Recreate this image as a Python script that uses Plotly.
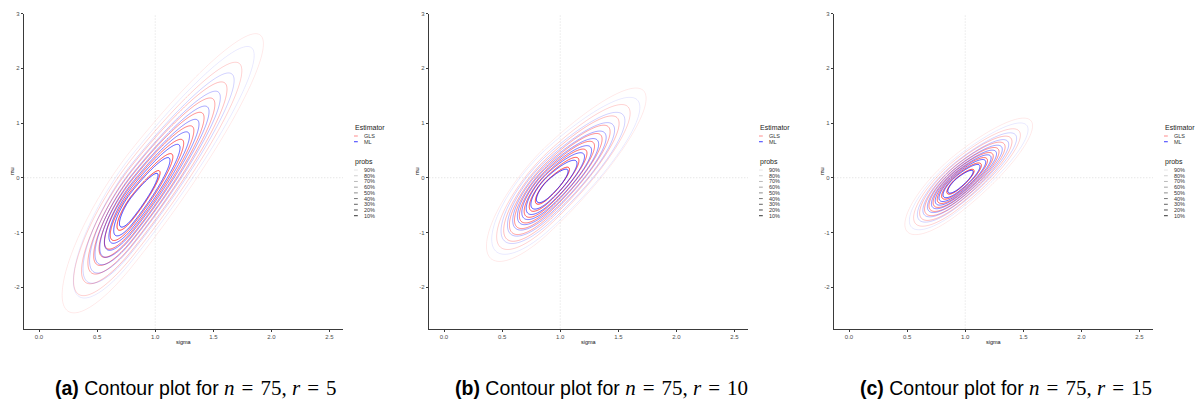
import numpy as np
import plotly.graph_objects as go

# ---------------- data ----------------
panel_tags = ["(a)", "(b)", "(c)"]
n_obs = 75
r_values = [5, 10, 15]
estimators = ["GLS", "ML"]
prob_labels = ["90%", "80%", "70%", "60%", "50%", "40%", "30%", "20%", "10%"]
prob_levels = [0.9, 0.8, 0.7, 0.6, 0.5, 0.4, 0.3, 0.2, 0.1]

sigma_ticks = [0.0, 0.5, 1.0, 1.5, 2.0, 2.5]
mu_ticks = [-2, -1, 0, 1, 2, 3]

# density summaries for each panel (split-normal in sigma, linear mu|sigma)
gls_sigma_mode = [0.80, 0.90, 0.94]
gls_mu_mode = [-0.55, -0.20, -0.10]
gls_sigma_sd_left = [0.280, 0.249, 0.214]
gls_sigma_sd_right = [0.527, 0.391, 0.298]
gls_mu_slope = [2.65, 1.965, 1.64]
gls_mu_resid_sd = [0.50, 0.38, 0.262]

ml_sigma_mode = [0.80, 0.90, 0.94]
ml_mu_mode = [-0.55, -0.20, -0.10]
ml_sigma_sd_left = [0.235, 0.228, 0.196]
ml_sigma_sd_right = [0.490, 0.366, 0.280]
ml_mu_slope = [2.65, 1.89, 1.63]
ml_mu_resid_sd = [0.45, 0.356, 0.235]

# ---------------- layout constants ----------------
W, H = 1196, 403
FONT = "Liberation Sans, Arial, sans-serif"
axis_left_px = [24.3, 429.3, 834.3]
plot_w_px = 318.7
plot_top_px, plot_bot_px = 10.7, 328.0
x_range = [-0.1265, 2.616]
y_range = [-2.757, 3.0]


def px(x):
    return x / W


def py(y):
    return 1 - y / H


def hdr_mass(sg, mg, s0, m0, sl, sr, b, w):
    S, M = np.meshgrid(sg, mg)
    d = S - s0
    u = np.where(d < 0, d / sl, d / sr)
    v = (M - m0 - b * d) / w
    return 1 - np.exp(-(u ** 2 + v ** 2) / 2)


def alpha_for(p, amax=0.78, amin=0.09):
    return amax - (p - 0.1) / 0.8 * (amax - amin)


def scale_for(rgb):
    stops = []
    for p in sorted(prob_levels):
        t = (p - 0.1) / 0.8
        stops.append([t, "rgba(%d,%d,%d,%.3f)" % (rgb + (alpha_for(p),))])
    return stops


sg = np.linspace(x_range[0], x_range[1], 400)
mg = np.linspace(y_range[0], y_range[1], 480)

est_params = {
    "GLS": (gls_sigma_mode, gls_mu_mode, gls_sigma_sd_left, gls_sigma_sd_right, gls_mu_slope, gls_mu_resid_sd),
    "ML": (ml_sigma_mode, ml_mu_mode, ml_sigma_sd_left, ml_sigma_sd_right, ml_mu_slope, ml_mu_resid_sd),
}
est_rgb = {"GLS": (255, 0, 0), "ML": (0, 0, 255)}

fig = go.Figure()
shapes = []
annotations = []

for i in range(3):
    xa = "x" if i == 0 else "x%d" % (i + 1)
    ya = "y" if i == 0 else "y%d" % (i + 1)
    for est in estimators:
        s0, m0, sl, sr, b, w = (arr[i] for arr in est_params[est])
        z = hdr_mass(sg, mg, s0, m0, sl, sr, b, w)
        fig.add_trace(go.Contour(
            x=sg, y=mg, z=z, xaxis=xa, yaxis=ya,
            autocontour=False,
            contours=dict(start=0.1, end=0.9, size=0.1, coloring="lines", showlabels=False),
            zauto=False, zmin=0.1, zmax=0.9,
            colorscale=scale_for(est_rgb[est]),
            line=dict(width=1.0, smoothing=1),
            showscale=False, showlegend=False, hoverinfo="skip",
        ))

    x0 = axis_left_px[i]
    dom_x = [px(x0), px(x0 + plot_w_px)]
    dom_y = [py(plot_bot_px), py(plot_top_px)]
    axis_common = dict(showline=True, linecolor="#3a3a3a", linewidth=1.1, ticks="outside",
                       ticklen=2.5, tickwidth=1, tickcolor="#3a3a3a", showgrid=False, zeroline=False,
                       tickfont=dict(family=FONT, size=6, color="#4d4d4d"))
    fig.layout[("xaxis" if i == 0 else "xaxis%d" % (i + 1))] = dict(
        domain=dom_x, range=x_range, anchor=ya, tickvals=sigma_ticks,
        ticktext=["%.1f" % t for t in sigma_ticks], **axis_common)
    fig.layout[("yaxis" if i == 0 else "yaxis%d" % (i + 1))] = dict(
        domain=dom_y, range=y_range, anchor=xa, tickvals=mu_ticks,
        ticktext=[str(t) for t in mu_ticks], **axis_common)

    # dotted reference lines
    shapes.append(dict(type="line", xref=xa, yref=ya + " domain", x0=1, x1=1, y0=0, y1=1,
                       line=dict(color="#dcdcdc", width=1, dash="1px,2px"), layer="below"))
    shapes.append(dict(type="line", xref=xa + " domain", yref=ya, x0=0, x1=1, y0=0, y1=0,
                       line=dict(color="#dcdcdc", width=1, dash="1px,2px"), layer="below"))

    # axis titles
    annotations.append(dict(text="sigma", x=px(x0 + plot_w_px / 2), y=py(341.5), xref="paper", yref="paper",
                            showarrow=False, font=dict(family=FONT, size=5.5, color="#111"),
                            xanchor="center", yanchor="middle"))
    annotations.append(dict(text="mu", x=px(x0 - 12.5), y=py(169.5), xref="paper", yref="paper",
                            showarrow=False, textangle=-90, font=dict(family=FONT, size=5.5, color="#111"),
                            xanchor="center", yanchor="middle"))

    # legend (drawn)
    lx = x0 + 329
    annotations.append(dict(text="Estimator", x=px(lx - 0.5), y=py(125), xref="paper", yref="paper",
                            showarrow=False, font=dict(family=FONT, size=7, color="#222"),
                            xanchor="left", yanchor="middle"))
    key_rgba = {"GLS": "rgba(255,0,0,0.35)", "ML": "rgba(0,0,255,0.6)"}
    for k, est in enumerate(estimators):
        yy = 134 + k * 5.7
        shapes.append(dict(type="line", xref="paper", yref="paper", x0=px(lx + 0.7), x1=px(lx + 4.5),
                           y0=py(yy), y1=py(yy), line=dict(color=key_rgba[est], width=1.3)))
        annotations.append(dict(text=est, x=px(lx + 8.5), y=py(yy), xref="paper", yref="paper",
                                showarrow=False, font=dict(family=FONT, size=5.5, color="#333"),
                                xanchor="left", yanchor="middle"))
    annotations.append(dict(text="probs", x=px(lx - 0.5), y=py(160), xref="paper", yref="paper",
                            showarrow=False, font=dict(family=FONT, size=7, color="#222"),
                            xanchor="left", yanchor="middle"))
    for k, (lab, p) in enumerate(zip(prob_labels, prob_levels)):
        yy = 168.3 + k * 5.75
        shapes.append(dict(type="line", xref="paper", yref="paper", x0=px(lx + 0.7), x1=px(lx + 4.5),
                           y0=py(yy), y1=py(yy),
                           line=dict(color="rgba(0,0,0,%.3f)" % alpha_for(p, 0.8, 0.1), width=1)))
        annotations.append(dict(text=lab, x=px(lx + 8.5), y=py(yy), xref="paper", yref="paper",
                                showarrow=False, font=dict(family=FONT, size=5.5, color="#333"),
                                xanchor="left", yanchor="middle"))

    # caption
    serif = "font-family:'Liberation Serif','DejaVu Serif',serif;font-size:21px"
    sp = "\u2004"
    cap = ("<b>%s</b> Contour plot for <span style=\"%s\"><i>n</i>%s=%s%d, <i>r</i>%s=%s%d</span>"
           % (panel_tags[i], serif, sp, sp, n_obs, sp, sp, r_values[i]))
    annotations.append(dict(text=cap, x=px(x0 + 172), y=py(387.5), xref="paper", yref="paper",
                            showarrow=False, font=dict(family=FONT, size=19.5, color="#000"),
                            xanchor="center", yanchor="middle"))

fig.update_layout(
    width=W, height=H, margin=dict(l=0, r=0, t=0, b=0),
    paper_bgcolor="white", plot_bgcolor="white",
    shapes=shapes, annotations=annotations, showlegend=False,
)

fig.write_html("out.html")
